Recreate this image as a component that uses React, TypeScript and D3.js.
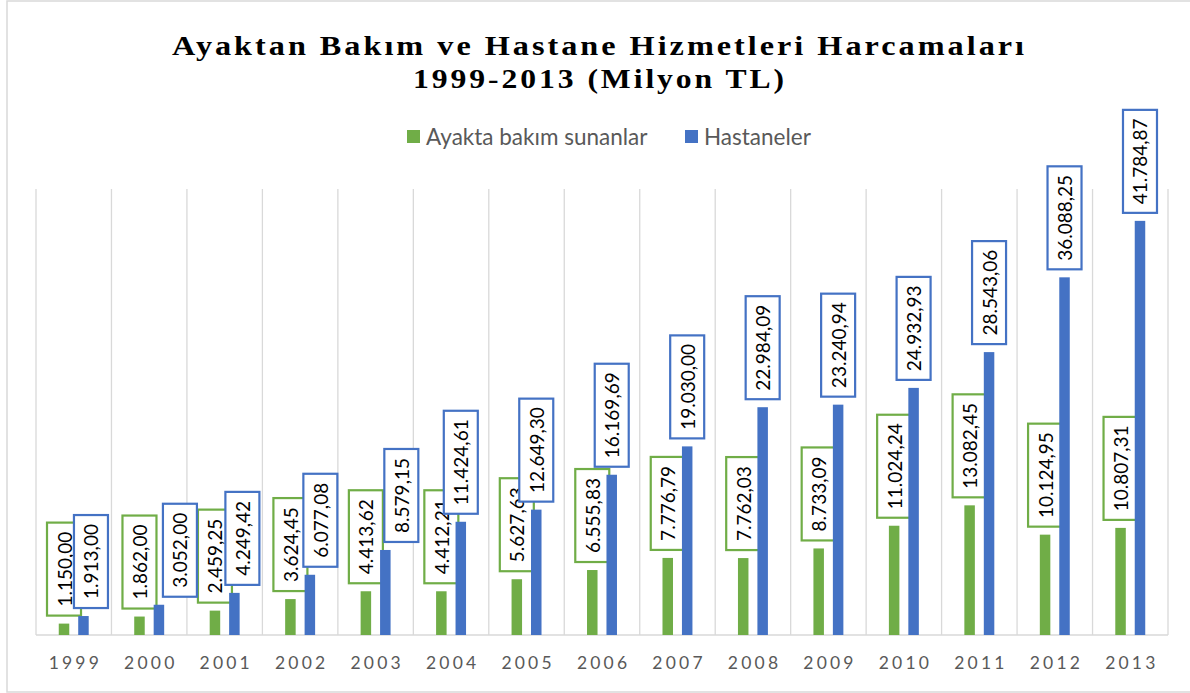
import React from 'react';
import * as d3 from 'd3';

// chart values
const years = ['1999', '2000', '2001', '2002', '2003', '2004', '2005', '2006', '2007', '2008', '2009', '2010', '2011', '2012', '2013'];
const ayaktaBakim = [1150.0, 1862.0, 2459.25, 3624.45, 4413.62, 4412.21, 5627.63, 6555.83, 7776.79, 7762.03, 8733.09, 11024.24, 13082.45, 10124.95, 10807.31];
const hastaneler = [1913.0, 3052.0, 4249.42, 6077.08, 8579.15, 11424.61, 12649.3, 16169.69, 19030.0, 22984.09, 23240.94, 24932.93, 28543.06, 36088.25, 41784.87];
const seriesNames = ['Ayakta bakım sunanlar', 'Hastaneler'];
const titleLines = ['Ayaktan Bakım ve Hastane Hizmetleri Harcamaları', '1999-2013 (Milyon TL)'];

// some labels were dragged sideways in the original (px, per series)
const labelShift = [
  [0, 0, 0, 0, 0, 0, 0, 0, 0, 0, 0, 0, 0, 0, 0],
  [7.5, 21, 8, 10.5, 16, 0, 0, 0, 0, 0, 0, 0, 0, 0, 0],
];

const colors = ['#70AD47', '#4472C4'];
const width = 1190;
const height = 693;
const plot = { left: 36, right: 1168, top: 189, bottom: 635 };

const trFormat = d3.formatLocale({
  decimal: ',',
  thousands: '.',
  grouping: [3],
  currency: ['', ''],
}).format(',.2f');

const App = () => {
  const x0 = d3.scaleBand().domain(years).range([plot.left, plot.right]).padding(0);
  const x1 = d3
    .scaleBand()
    .domain(seriesNames)
    .range([0, x0.bandwidth()])
    .paddingInner(0.46)
    .paddingOuter(1.17);
  const y = d3.scaleLinear().domain([0, 45000]).range([plot.bottom, plot.top]);

  const series = [ayaktaBakim, hastaneler];
  const bw = x1.bandwidth();
  const gridXs = [...years.map((d) => x0(d)!), plot.right];

  return (
    <svg
      width={width}
      height={height}
      style={{ position: 'absolute', left: 0, top: 0, background: '#fff' }}
    >
      <rect x={7} y={1} width={width} height={691} fill="#fff" stroke="#d9d9d9" strokeWidth={1.5} />

      {/* title */}
      <g fontFamily="'Liberation Serif', 'Times New Roman', serif" fontWeight="bold" fontSize={27} fill="#000">
        <text x={172} y={55} textLength={855} lengthAdjust="spacingAndGlyphs" letterSpacing={2.5}>
          {titleLines[0]}
        </text>
        <text x={413} y={88} textLength={374} lengthAdjust="spacingAndGlyphs" letterSpacing={2.5}>
          {titleLines[1]}
        </text>
      </g>

      {/* legend */}
      <g fontFamily="Lato, 'Open Sans', sans-serif" fontSize={22.5} fill="#595959">
        <rect x={407} y={130} width={13} height={13} fill={colors[0]} />
        <text x={426} y={145}>{seriesNames[0]}</text>
        <rect x={685} y={130} width={13} height={13} fill={colors[1]} />
        <text x={704} y={145}>{seriesNames[1]}</text>
      </g>

      {/* vertical gridlines between categories */}
      {gridXs.map((gx, i) => (
        <line key={'g' + i} x1={gx} x2={gx} y1={plot.top} y2={plot.bottom} stroke="#d9d9d9" strokeWidth={1.3} />
      ))}
      <line x1={plot.left} x2={plot.right} y1={plot.bottom} y2={plot.bottom} stroke="#d9d9d9" strokeWidth={1.3} />

      {/* x axis labels */}
      <g fontFamily="Lato, 'Open Sans', sans-serif" fontSize={17.5} fill="#595959" letterSpacing={3.2}>
        {years.map((yr) => (
          <text key={yr} x={x0(yr)! + x0.bandwidth() / 2 + 1.6} y={669} textAnchor="middle">
            {yr}
          </text>
        ))}
      </g>

      {/* bars and data labels, series by series */}
      {series.map((vals, si) => (
        <g key={seriesNames[si]}>
          {vals.map((v, i) => {
            const bx = x0(years[i])! + x1(seriesNames[si])!;
            return (
              <rect key={'b' + i} x={bx} y={y(v)} width={bw} height={plot.bottom - y(v)} fill={colors[si]} />
            );
          })}
          {vals.map((v, i) => {
            const label = trFormat(v);
            const digits = label.replace(/[^0-9]/g, '').length;
            const boxH = 33 + 10 * digits;
            const boxW = 34;
            const cx = x0(years[i])! + x1(seriesNames[si])! + bw / 2 + labelShift[si][i];
            const boxBottom = y(v) - 8;
            const cy = boxBottom - boxH / 2;
            return (
              <g key={'l' + i}>
                <rect
                  x={cx - boxW / 2}
                  y={boxBottom - boxH}
                  width={boxW}
                  height={boxH}
                  fill="#fff"
                  stroke={colors[si]}
                  strokeWidth={2.2}
                />
                <text
                  transform={`translate(${cx},${cy}) rotate(-90)`}
                  textAnchor="middle"
                  dominantBaseline="central"
                  fontFamily="Lato, 'Open Sans', sans-serif"
                  fontSize={19}
                  fill="#000"
                >
                  {label}
                </text>
              </g>
            );
          })}
        </g>
      ))}
    </svg>
  );
};

export default App;
